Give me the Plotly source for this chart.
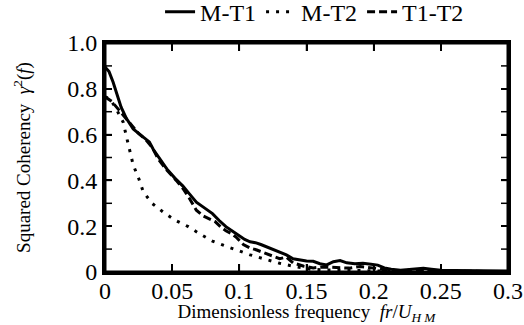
import plotly.graph_objects as go

# M-T1 (solid)
mt1_x = [0, 0.003, 0.006, 0.009, 0.012, 0.016, 0.021, 0.025, 0.029, 0.033, 0.036, 0.040,
         0.046, 0.052, 0.058, 0.063, 0.068, 0.074, 0.080, 0.085, 0.090, 0.095, 0.100,
         0.104, 0.108, 0.112, 0.116, 0.120, 0.125, 0.130, 0.135, 0.140, 0.145, 0.150,
         0.155, 0.160, 0.165, 0.170, 0.175, 0.180, 0.186, 0.192, 0.198, 0.203, 0.208,
         0.213, 0.220, 0.230, 0.237, 0.243, 0.250, 0.260, 0.270, 0.280, 0.290, 0.300]
mt1_y = [0.895, 0.875, 0.83, 0.775, 0.72, 0.67, 0.625, 0.605, 0.585, 0.568, 0.535, 0.50,
         0.45, 0.41, 0.375, 0.34, 0.305, 0.28, 0.255, 0.225, 0.198, 0.178, 0.16,
         0.142, 0.132, 0.128, 0.12, 0.11, 0.097, 0.088, 0.075, 0.058, 0.052, 0.048,
         0.047, 0.036, 0.031, 0.045, 0.05, 0.04, 0.036, 0.038, 0.034, 0.03, 0.018,
         0.012, 0.008, 0.012, 0.016, 0.012, 0.008, 0.007, 0.006, 0.005, 0.006, 0.004]

# M-T2 (dotted)
mt2_x = [0, 0.004, 0.009, 0.0135, 0.016, 0.0186, 0.021, 0.025, 0.0285, 0.035, 0.043,
         0.052, 0.062, 0.071, 0.080, 0.089, 0.099, 0.108, 0.118, 0.130, 0.142, 0.153,
         0.165, 0.180, 0.200, 0.220, 0.250, 0.300]
mt2_y = [0.765, 0.755, 0.705, 0.655, 0.59, 0.53, 0.467, 0.41, 0.35, 0.30, 0.263,
         0.227, 0.198, 0.165, 0.135, 0.115, 0.094, 0.075, 0.058, 0.038, 0.023, 0.012,
         0.009, 0.007, 0.005, 0.003, 0.002, 0.001]

# T1-T2 (dashed)
t12_x = [0, 0.005, 0.010, 0.015, 0.020, 0.025, 0.030, 0.035, 0.040, 0.046, 0.053, 0.058,
         0.063, 0.068, 0.073, 0.078, 0.082, 0.086, 0.090, 0.094, 0.098, 0.103, 0.108,
         0.113, 0.118, 0.123, 0.130, 0.135, 0.140, 0.148, 0.155, 0.162, 0.168, 0.175,
         0.182, 0.190, 0.197, 0.203, 0.210, 0.220, 0.240, 0.270, 0.300]
t12_y = [0.765, 0.745, 0.71, 0.675, 0.635, 0.605, 0.58, 0.545, 0.49, 0.445, 0.40, 0.365,
         0.32, 0.27, 0.245, 0.232, 0.22, 0.198, 0.18, 0.168, 0.15, 0.12, 0.105,
         0.096, 0.085, 0.074, 0.058, 0.065, 0.04, 0.025, 0.018, 0.022, 0.02, 0.018,
         0.017, 0.024, 0.02, 0.015, 0.008, 0.005, 0.004, 0.003, 0.002]

x_ticks = [0, 0.05, 0.1, 0.15, 0.2, 0.25, 0.3]
x_labels = ["0", "0.05", "0.1", "0.15", "0.2", "0.25", "0.3"]
y_ticks = [0, 0.2, 0.4, 0.6, 0.8, 1.0]
y_labels = ["0", "0.2", "0.4", "0.6", "0.8", "1.0"]
y_minor = [0.1, 0.2, 0.3, 0.4, 0.5, 0.6, 0.7, 0.8, 0.9]

FONT = "Liberation Serif"
X_RANGE = [0, 0.3]
Y_RANGE = [0, 1.0]
PLOT_W, PLOT_H = 403, 229   # plot area in px

fig = go.Figure()
fig.add_trace(go.Scatter(x=mt1_x, y=mt1_y, mode="lines", name="M-T1",
                         line=dict(color="black", width=3)))
fig.add_trace(go.Scatter(x=mt2_x, y=mt2_y, mode="lines", name="M-T2",
                         line=dict(color="black", width=3, dash="3px,7px")))
fig.add_trace(go.Scatter(x=t12_x, y=t12_y, mode="lines", name="T1-T2",
                         line=dict(color="black", width=3, dash="8px,4px")))

# axes frame, derived from the axis ranges
x0, x1 = X_RANGE
y0, y1 = Y_RANGE
fig.add_trace(go.Scatter(x=[x0, x1, x1, x0, x0], y=[y0, y0, y1, y1, y0], mode="lines",
                         line=dict(color="black", width=3), showlegend=False,
                         hoverinfo="skip", cliponaxis=False))

# inside ticks, derived from the tick arrays
tlen_y = 8 / PLOT_H * (y1 - y0)
tlen_x = 7 / PLOT_W * (x1 - x0)
tick_x, tick_y = [], []
for v in x_ticks[1:-1]:
    tick_x += [v, v, None, v, v, None]
    tick_y += [y0, y0 + tlen_y, None, y1, y1 - tlen_y, None]
for v in y_minor:
    tick_x += [x0, x0 + tlen_x, None, x1, x1 - tlen_x, None]
    tick_y += [v, v, None, v, v, None]
fig.add_trace(go.Scatter(x=tick_x, y=tick_y, mode="lines",
                         line=dict(color="black", width=1.5), showlegend=False,
                         hoverinfo="skip", cliponaxis=False))

fig.update_layout(
    width=524, height=325,
    margin=dict(l=105, r=16, t=43, b=53, autoexpand=False),
    paper_bgcolor="white", plot_bgcolor="white",
    font=dict(family=FONT, color="black", size=24),
    showlegend=True,
    legend=dict(orientation="h", x=0.52, xanchor="center",
                y=1.135, yanchor="middle", font=dict(size=24, family=FONT),
                bgcolor="rgba(0,0,0,0)"),
    xaxis=dict(range=X_RANGE, tickmode="array", tickvals=x_ticks, ticktext=x_labels,
               ticks="inside", ticklen=8, tickwidth=1.5, tickcolor="#000000",
               showline=True, linewidth=3, linecolor="#000000", mirror="ticks",
               showgrid=False, zeroline=False, ticklabelstandoff=-5,
               tickfont=dict(size=24, family=FONT),
               title=dict(text="Dimensionless frequency  <i>fr</i>/<i>U</i><sub><i>H M</i></sub>",
                          font=dict(size=19, family=FONT), standoff=6)),
    yaxis=dict(range=Y_RANGE, tickmode="array", tickvals=y_ticks, ticktext=y_labels,
               ticks="inside", ticklen=7, tickwidth=1.5, tickcolor="#000000",
               showline=True, linewidth=3, linecolor="#000000", mirror="ticks",
               showgrid=False, zeroline=False,
               tickfont=dict(size=24, family=FONT),
               title=dict(text="Squared Coherency  <i>γ</i><sup>2</sup>(<i>f</i>)",
                          font=dict(size=19, family=FONT), standoff=32)),
)

fig.write_html("out.html")
